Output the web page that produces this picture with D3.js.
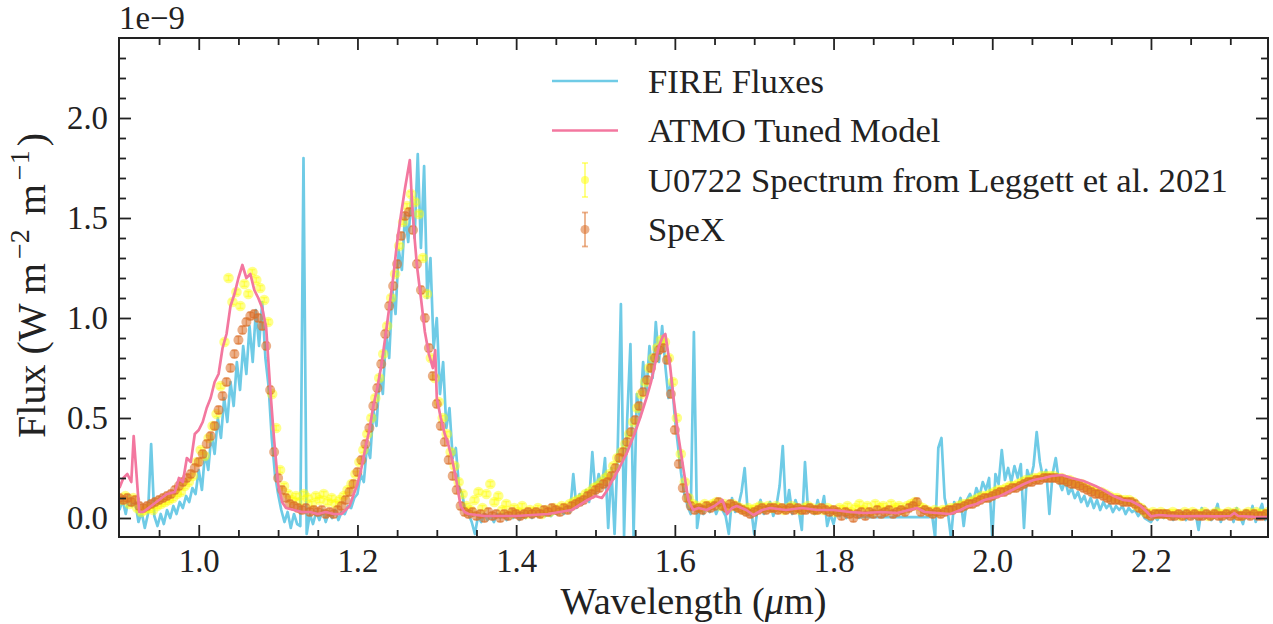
<!DOCTYPE html>
<html><head><meta charset="utf-8">
<script src="https://cdn.jsdelivr.net/npm/d3@7"></script>
<style>
body{margin:0;background:#fff}
svg{display:block}
text{fill:#222}
</style>
</head><body>
<svg id="c" width="1273" height="624"></svg>
<script>
// ---------------- data (flux in units of 1e-9 W m^-2 m^-1) ----------------
const fireStart = 0.900, fireStep = 0.004;
const fireFlux = [
0.04,0.09,0.02,0.11,0.06,0.08,-0.02,0.03,-0.05,0.02,
0.37,0.01,-0.04,0.02,-0.03,0.04,0.00,0.06,0.02,0.08,
0.05,0.11,0.08,0.15,0.12,0.24,0.14,0.33,0.24,0.42,
0.32,0.50,0.40,0.60,0.48,0.68,0.56,0.78,0.64,0.86,
0.72,0.96,0.78,1.04,0.86,1.08,0.80,0.66,0.40,0.22,
0.12,0.04,-0.02,0.03,-0.05,0.02,-0.03,-0.04,1.80,-0.08,
0.02,-0.03,0.03,-0.01,0.04,-0.02,0.03,0.00,0.04,-0.01,
0.03,0.02,0.06,0.05,0.10,0.12,0.22,0.18,0.36,0.30,
0.54,0.46,0.72,0.62,0.92,0.80,1.14,1.02,1.34,1.24,
1.52,1.38,1.62,1.40,1.82,1.35,1.76,1.10,1.30,0.85,
1.00,0.62,0.78,0.45,0.55,0.30,0.35,0.15,0.12,0.03,
0.02,-0.02,-0.08,0.01,-0.02,0.02,-0.01,0.01,-0.02,0.02,
0.00,0.02,-0.01,0.01,0.00,0.02,-0.01,0.01,0.00,0.02,
0.00,0.02,0.01,0.03,0.01,0.02,0.01,0.03,0.02,0.04,
0.02,0.06,0.03,0.22,0.05,0.12,0.07,0.14,0.08,0.33,
0.12,0.22,0.15,0.30,-0.05,0.25,-0.08,0.34,1.07,-0.09,
0.50,0.87,-0.09,0.62,0.50,0.78,0.62,0.86,0.70,0.98,
0.78,0.96,0.76,0.60,0.70,0.50,0.36,0.22,0.12,0.06,
0.02,0.93,-0.05,0.06,0.02,0.07,0.03,0.08,0.02,0.06,
0.04,0.01,-0.08,0.10,0.03,0.06,0.13,0.25,0.02,0.05,
-0.08,0.04,0.09,0.02,0.05,0.08,0.01,0.06,0.16,0.36,
0.03,0.14,0.02,0.09,0.04,-0.06,0.28,0.03,0.06,0.02,
0.09,0.03,0.11,-0.04,0.02,-0.03,0.04,0.01,0.03,0.00,
0.03,0.01,0.02,0.00,0.005,0.005,0.004,0.004,0.004,0.004,
0.004,0.004,0.004,0.004,0.004,0.004,0.004,0.004,0.004,0.004,
0.004,0.004,0.004,0.004,0.004,0.004,0.02,-0.10,0.35,0.40,
0.10,0.03,-0.10,0.08,0.05,0.10,-0.04,0.09,0.12,0.08,
0.15,0.11,0.18,0.14,0.20,-0.10,0.22,0.17,0.34,0.19,
0.25,0.18,0.26,0.20,0.27,-0.05,0.24,0.19,0.26,0.43,
0.28,0.20,0.24,0.02,0.22,0.30,0.18,0.14,0.19,0.12,
0.15,0.10,0.13,0.08,0.11,0.06,0.10,0.05,0.09,0.04,
0.08,0.05,0.07,0.03,0.06,0.04,0.06,0.02,0.05,0.03,
0.04,0.01,0.03,0.00,-0.01,-0.02,0.01,-0.01,0.02,0.00,
0.03,0.01,-0.01,0.02,0.00,0.03,-0.01,0.02,0.00,0.03,
-0.06,0.05,0.00,0.03,-0.01,0.02,0.07,-0.02,0.03,0.00,
0.04,-0.02,0.05,0.01,-0.03,0.04,0.00,0.06,-0.02,0.03,
0.07,-0.01,0.02];

const atmoWave = [
0.900,0.905,0.910,0.915,0.918,0.921,0.925,0.930,0.940,0.950,
0.960,0.970,0.975,0.980,0.985,0.990,0.995,1.000,1.005,1.010,
1.015,1.020,1.025,1.030,1.035,1.040,1.045,1.050,1.055,1.060,
1.065,1.070,1.075,1.080,1.085,1.090,1.095,1.100,1.105,1.110,
1.120,1.130,1.140,1.150,1.160,1.170,1.180,1.190,1.200,1.205,
1.210,1.215,1.220,1.225,1.230,1.235,1.240,1.245,1.250,1.255,
1.260,1.263,1.266,1.269,1.272,1.275,1.280,1.285,1.290,1.295,
1.298,1.300,1.305,1.310,1.315,1.320,1.325,1.330,1.335,1.340,
1.360,1.400,1.440,1.470,1.490,1.500,1.508,1.515,1.520,1.530,
1.540,1.550,1.557,1.565,1.570,1.575,1.580,1.585,1.588,1.594,
1.598,1.604,1.611,1.617,1.623,1.630,1.640,1.650,1.660,1.666,
1.672,1.678,1.690,1.699,1.710,1.720,1.740,1.760,1.780,1.800,
1.820,1.840,1.860,1.880,1.895,1.905,1.915,1.930,1.947,1.960,
1.968,1.980,1.990,2.000,2.010,2.020,2.030,2.040,2.052,2.065,
2.075,2.088,2.100,2.115,2.130,2.140,2.153,2.165,2.175,2.187,
2.195,2.200,2.210,2.220,2.240,2.260,2.280,2.300,2.305,2.310,
2.330,2.348];
const atmoFlux = [
0.15,0.20,0.22,0.18,0.41,0.25,0.03,0.03,0.06,0.09,
0.12,0.13,0.20,0.18,0.30,0.28,0.42,0.44,0.48,0.55,
0.60,0.68,0.72,0.85,0.92,1.06,1.12,1.20,1.265,1.20,
1.22,1.14,1.10,1.05,0.95,0.65,0.39,0.17,0.08,0.05,
0.04,0.03,0.03,0.02,0.03,0.02,0.02,0.06,0.17,0.25,
0.35,0.44,0.56,0.65,0.76,0.90,1.05,1.20,1.38,1.52,
1.65,1.72,1.79,1.56,1.40,1.26,1.10,0.93,0.82,0.75,
0.84,0.60,0.50,0.42,0.36,0.28,0.18,0.06,0.03,0.02,
0.01,0.01,0.02,0.04,0.09,0.11,0.10,0.14,0.18,0.25,
0.33,0.43,0.51,0.61,0.68,0.77,0.86,0.91,0.92,0.76,
0.61,0.42,0.24,0.09,0.04,0.05,0.04,0.06,0.09,0.02,
0.05,0.06,0.04,0.015,0.04,0.05,0.04,0.05,0.04,0.04,
0.03,0.025,0.03,0.025,0.04,0.05,0.03,0.025,0.02,0.04,
0.057,0.07,0.09,0.10,0.11,0.13,0.15,0.17,0.19,0.20,
0.21,0.215,0.20,0.185,0.16,0.14,0.11,0.09,0.085,0.06,
0.03,0.008,0.015,0.012,0.008,0.01,0.008,0.01,0.025,0.01,
0.006,0.004];

const leggettStart = 0.9025, leggettStep = 0.005, leggettErr = 0.012;
const leggettFlux = [
0.09,0.11,0.07,0.10,0.05,0.03,0.04,0.05,0.04,0.06,
0.07,0.08,0.09,0.10,0.12,0.13,0.16,0.18,0.21,0.28,
0.34,0.31,0.40,0.46,0.52,0.66,0.88,1.20,1.08,1.13,
1.06,1.17,1.12,1.23,1.19,1.15,1.09,0.98,0.62,0.45,
0.24,0.16,0.12,0.09,0.11,0.08,0.12,0.10,0.07,0.11,
0.09,0.12,0.08,0.10,0.07,0.09,0.11,0.14,0.17,0.22,
0.28,0.34,0.42,0.50,0.60,0.70,0.82,0.96,1.10,1.22,
1.36,1.48,1.56,1.62,1.58,1.52,1.30,1.12,0.80,0.70,
0.58,0.50,0.42,0.33,0.26,0.18,0.12,0.06,0.04,0.09,
0.13,0.05,0.12,0.17,0.08,0.11,0.04,0.07,0.02,0.05,
0.03,0.06,0.02,0.04,0.03,0.05,0.02,0.04,0.03,0.05,
0.04,0.06,0.05,0.07,0.08,0.09,0.10,0.12,0.13,0.15,
0.16,0.18,0.20,0.22,0.26,0.30,0.33,0.37,0.42,0.48,
0.55,0.62,0.68,0.75,0.80,0.85,0.89,0.88,0.80,0.68,
0.50,0.32,0.18,0.10,0.07,0.06,0.05,0.07,0.06,0.07,
0.08,0.06,0.07,0.05,0.07,0.06,0.05,0.04,0.05,0.04,
0.05,0.06,0.05,0.06,0.05,0.06,0.05,0.04,0.05,0.06,
0.05,0.04,0.05,0.06,0.05,0.04,0.05,0.04,0.05,0.04,
0.03,0.05,0.04,0.06,0.03,0.05,0.07,0.04,0.06,0.03,
0.07,0.05,0.06,0.04,0.07,0.05,0.06,0.04,0.06,0.07,
0.08,0.06,0.05,0.04,0.03,0.04,0.03,0.04,0.04,0.05,
0.05,0.06,0.07,0.07,0.08,0.09,0.10,0.11,0.11,0.12,
0.13,0.14,0.14,0.15,0.16,0.16,0.17,0.18,0.19,0.19,
0.20,0.20,0.21,0.21,0.21,0.21,0.20,0.20,0.19,0.19,
0.18,0.17,0.17,0.16,0.15,0.14,0.13,0.13,0.12,0.11,
0.10,0.10,0.09,0.09,0.09,0.08,0.06,0.05,0.03,0.02,
0.03,0.02,0.03,0.02,0.02,0.03,0.02,0.01,0.03,0.02,
0.03,0.02,0.02,0.03,0.01,0.02,0.03,0.02,0.02,0.03,
0.02,0.03,0.01,0.02,0.03,0.02,0.03,0.02,0.02,0.03];

const spexStart = 0.900, spexStep = 0.005, spexErr = 0.018;
const spexFlux = [
0.10,0.09,0.10,0.08,0.09,0.06,0.05,0.06,0.07,0.08,
0.09,0.10,0.11,0.12,0.14,0.16,0.18,0.20,0.22,0.25,
0.28,0.32,0.37,0.41,0.46,0.54,0.61,0.68,0.75,0.82,
0.89,0.94,0.98,1.01,1.02,1.00,0.96,0.86,0.64,0.33,
0.20,0.14,0.10,0.07,0.06,0.05,0.04,0.05,0.03,0.04,
0.03,0.04,0.02,0.03,0.02,0.04,0.06,0.09,0.13,0.17,
0.23,0.29,0.37,0.45,0.56,0.65,0.77,0.92,1.06,1.16,
1.27,1.41,1.51,1.53,1.44,1.27,1.14,1.00,0.85,0.71,
0.57,0.46,0.38,0.29,0.21,0.14,0.06,0.03,0.02,0.03,
0.01,0.02,0.00,0.03,0.01,0.02,0.00,0.02,0.01,0.03,
0.02,0.01,0.02,0.03,0.02,0.03,0.02,0.04,0.03,0.05,
0.04,0.03,0.05,0.04,0.06,0.07,0.08,0.09,0.11,0.12,
0.14,0.15,0.17,0.18,0.21,0.25,0.30,0.33,0.38,0.43,
0.49,0.56,0.63,0.69,0.75,0.80,0.84,0.85,0.79,0.62,
0.44,0.27,0.15,0.10,0.06,0.04,0.05,0.04,0.06,0.05,
0.06,0.08,0.06,0.05,0.07,0.06,0.05,0.04,0.03,0.02,
0.03,0.04,0.05,0.04,0.05,0.05,0.04,0.05,0.04,0.05,
0.04,0.05,0.04,0.04,0.05,0.04,0.04,0.05,0.04,0.03,
0.04,0.03,0.01,0.03,0.02,0.00,0.02,0.03,0.01,0.03,
0.02,0.04,0.02,0.03,0.04,0.02,0.03,0.04,0.03,0.05,
0.06,0.08,0.03,0.04,0.03,0.02,0.03,0.02,0.03,0.04,
0.04,0.05,0.05,0.06,0.07,0.07,0.08,0.09,0.10,0.10,
0.11,0.12,0.13,0.13,0.14,0.15,0.15,0.16,0.17,0.18,
0.18,0.19,0.19,0.20,0.20,0.20,0.20,0.19,0.19,0.18,
0.17,0.17,0.16,0.15,0.14,0.13,0.12,0.12,0.11,0.10,
0.09,0.09,0.09,0.08,0.08,0.08,0.07,0.05,0.04,0.02,
0.01,0.02,0.02,0.02,0.02,0.01,0.01,0.02,0.01,0.02,
0.01,0.02,0.01,0.01,0.02,0.01,0.02,0.01,0.01,0.02,
0.01,0.02,0.01,0.01,0.02,0.01,0.02,0.01,0.01,0.02];

const xMajor = [1.0,1.2,1.4,1.6,1.8,2.0,2.2];
const xMajorLabels = ["1.0","1.2","1.4","1.6","1.8","2.0","2.2"];
const xMinor = [0.95,1.05,1.1,1.15,1.25,1.3,1.35,1.45,1.5,1.55,1.65,1.7,1.75,1.85,1.9,1.95,2.05,2.1,2.15,2.25,2.3];
const yMajor = [0.0,0.5,1.0,1.5,2.0];
const yMajorLabels = ["0.0","0.5","1.0","1.5","2.0"];
const yMinor = [0.1,0.2,0.3,0.4,0.6,0.7,0.8,0.9,1.1,1.2,1.3,1.4,1.6,1.7,1.8,1.9,2.1,2.2,2.3];
const legendLabels = ["FIRE Fluxes","ATMO Tuned Model","U0722 Spectrum from Leggett et al. 2021","SpeX"];

// ---------------- font selection (first installed serif) ----------------
function pickFont(list) {
  const c = document.createElement("canvas").getContext("2d");
  const s = "Wavelength FIRE Fluxes 0123456789 mmmiiiWW";
  for (const f of list) {
    for (const base of ["monospace", "sans-serif"]) {
      c.font = `40px ${base}`; const w0 = c.measureText(s).width;
      c.font = `40px "${f}", ${base}`; const w1 = c.measureText(s).width;
      if (Math.abs(w0 - w1) > 0.5) return f;
    }
  }
  return null;
}
const fam = pickFont(["Liberation Serif","Tinos","Times New Roman","Times","Nimbus Roman","Nimbus Roman No9 L","FreeSerif","DejaVu Serif","Noto Serif"]);
const FONT = fam ? `"${fam}", serif` : "serif";

// ---------------- layout ----------------
const L = 119, R = 1268, T = 38, B = 537;
const C_FIRE = "#6fcbe6", C_ATMO = "#f3779f", C_LEG = "#ffff00", C_SPEX = "#db6e26";
const x = d3.scaleLinear().domain([0.8995, 2.3475]).range([L, R]);
const y = d3.scaleLinear().domain([-0.095, 2.4]).range([B, T]);
const svg = d3.select("#c").attr("font-family", FONT);

function fitSize(sel, size, target) {
  sel.attr("font-size", size);
  const w = sel.node().getComputedTextLength();
  return w > 0 ? size * target / w : size;
}

svg.append("defs").append("clipPath").attr("id", "clip")
  .append("rect").attr("x", L).attr("y", T).attr("width", R - L).attr("height", B - T);
const plot = svg.append("g").attr("clip-path", "url(#clip)");

const fire = fireFlux.map((f, i) => [fireStart + i * fireStep, f]);
const atmo = atmoWave.map((w, i) => [w, atmoFlux[i]]);
const leg = leggettFlux.map((f, i) => [leggettStart + i * leggettStep, f]);
const spex = spexFlux.map((f, i) => [spexStart + i * spexStep, f]);
const line = d3.line().x(d => x(d[0])).y(d => y(d[1]));

plot.append("path").datum(fire).attr("d", line).attr("fill", "none")
  .attr("stroke", C_FIRE).attr("stroke-width", 2.7).attr("stroke-linejoin", "round");

function errSeries(data, err, color, r, alpha) {
  const g = plot.append("g");
  g.selectAll("line.v").data(data).join("line")
    .attr("x1", d => x(d[0])).attr("x2", d => x(d[0]))
    .attr("y1", d => y(d[1] - err)).attr("y2", d => y(d[1] + err))
    .attr("stroke", color).attr("stroke-opacity", alpha).attr("stroke-width", 1.5);
  [-1, 1].forEach(s => {
    g.selectAll(null).data(data).join("line")
      .attr("x1", d => x(d[0]) - 3).attr("x2", d => x(d[0]) + 3)
      .attr("y1", d => y(d[1] + s * err)).attr("y2", d => y(d[1] + s * err))
      .attr("stroke", color).attr("stroke-opacity", alpha).attr("stroke-width", 1.5);
  });
  g.selectAll("circle").data(data).join("circle")
    .attr("cx", d => x(d[0])).attr("cy", d => y(d[1])).attr("r", r)
    .attr("fill", color).attr("fill-opacity", alpha);
}
errSeries(leg, leggettErr, C_LEG, 5.3, 0.45);
errSeries(spex, spexErr, C_SPEX, 5, 0.55);

plot.append("path").datum(atmo).attr("d", line).attr("fill", "none")
  .attr("stroke", C_ATMO).attr("stroke-width", 2.7).attr("stroke-linejoin", "round");

// ---------------- axes ----------------
const probe = svg.append("text").text("2.0");
const tickFS = fitSize(probe, 33, 41);
probe.remove();

function styleAxis(g) {
  g.select(".domain").remove();
  g.selectAll(".tick line").attr("stroke", "#222").attr("stroke-width", 1.8);
  g.attr("font-size", tickFS).attr("font-family", FONT);
  g.selectAll("text").attr("fill", "#222");
}
const xfmt = v => xMajorLabels[xMajor.indexOf(v)];
const yfmt = v => yMajorLabels[yMajor.indexOf(v)];
svg.append("g").attr("transform", `translate(0,${B})`)
  .call(d3.axisBottom(x).tickValues(xMajor).tickFormat(xfmt).tickSize(-12).tickPadding(12))
  .call(styleAxis);
svg.append("g").attr("transform", `translate(0,${B})`)
  .call(d3.axisBottom(x).tickValues(xMinor).tickFormat("").tickSize(-7)).call(styleAxis);
svg.append("g").attr("transform", `translate(0,${T})`)
  .call(d3.axisTop(x).tickValues(xMajor).tickFormat("").tickSize(-12)).call(styleAxis);
svg.append("g").attr("transform", `translate(0,${T})`)
  .call(d3.axisTop(x).tickValues(xMinor).tickFormat("").tickSize(-7)).call(styleAxis);
svg.append("g").attr("transform", `translate(${L},0)`)
  .call(d3.axisLeft(y).tickValues(yMajor).tickFormat(yfmt).tickSize(-12).tickPadding(11))
  .call(styleAxis);
svg.append("g").attr("transform", `translate(${L},0)`)
  .call(d3.axisLeft(y).tickValues(yMinor).tickFormat("").tickSize(-7)).call(styleAxis);
svg.append("g").attr("transform", `translate(${R},0)`)
  .call(d3.axisRight(y).tickValues(yMajor).tickFormat("").tickSize(-12)).call(styleAxis);
svg.append("g").attr("transform", `translate(${R},0)`)
  .call(d3.axisRight(y).tickValues(yMinor).tickFormat("").tickSize(-7)).call(styleAxis);

svg.append("rect").attr("x", L).attr("y", T).attr("width", R - L).attr("height", B - T)
  .attr("fill", "none").attr("stroke", "#222").attr("stroke-width", 2);

// offset text
svg.append("text").attr("x", L).attr("y", 29).attr("font-size", tickFS).text("1e\u22129");

// x label
const xl = svg.append("text").attr("x", (L + R) / 2).attr("y", 614).attr("text-anchor", "middle");
xl.append("tspan").text("Wavelength (");
xl.append("tspan").attr("font-style", "italic").text("\u03bc");
xl.append("tspan").text("m)");
xl.attr("font-size", fitSize(xl, 37, 266));

// y label
function buildYLabel(s) {
  const t = svg.append("text").attr("text-anchor", "middle").attr("font-size", s);
  const sup = Math.round(s * 0.7), up = s * 0.38, gap = s * 0.2;
  t.append("tspan").text("Flux (W m");
  t.append("tspan").attr("dy", -up).attr("dx", gap * 0.5).attr("font-size", sup).text("\u22122");
  t.append("tspan").attr("dy", up).attr("dx", gap * 0.5).text(" m");
  t.append("tspan").attr("dy", -up).attr("dx", gap * 0.5).attr("font-size", sup).text("\u22121");
  t.append("tspan").attr("dy", up).attr("dx", gap * 0.5).text(")");
  return t;
}
let yl = buildYLabel(38);
const ylw = yl.node().getComputedTextLength() + 38 * 0.4;
yl.remove();
const ylS = 38 * 306 / ylw;
yl = buildYLabel(ylS).attr("transform", `translate(${19 + ylS * 0.64},${(T + B) / 2 - 2}) rotate(-90)`);

// ---------------- legend ----------------
const lg = svg.append("g");
const rowY = [81, 130.5, 180, 229.5];
const hx0 = 552, hx1 = 618, tx = 648;
lg.append("line").attr("x1", hx0).attr("x2", hx1).attr("y1", rowY[0]).attr("y2", rowY[0])
  .attr("stroke", C_FIRE).attr("stroke-width", 2.7);
lg.append("line").attr("x1", hx0).attr("x2", hx1).attr("y1", rowY[1]).attr("y2", rowY[1])
  .attr("stroke", C_ATMO).attr("stroke-width", 2.7);
[[2, C_LEG, 0.5, 4], [3, C_SPEX, 0.55, 4.5]].forEach(([k, c, a, r]) => {
  const cx = (hx0 + hx1) / 2, cy = rowY[k];
  lg.append("line").attr("x1", cx).attr("x2", cx).attr("y1", cy - 17).attr("y2", cy + 17)
    .attr("stroke", c).attr("stroke-opacity", a).attr("stroke-width", 1.8);
  [-17, 17].forEach(o => lg.append("line").attr("x1", cx - 3).attr("x2", cx + 3)
    .attr("y1", cy + o).attr("y2", cy + o).attr("stroke", c).attr("stroke-opacity", a).attr("stroke-width", 1.8));
  lg.append("circle").attr("cx", cx).attr("cy", cy).attr("r", r).attr("fill", c).attr("fill-opacity", a);
});
const lprobe = lg.append("text").text(legendLabels[2]);
const legFS = fitSize(lprobe, 34, 580);
lprobe.remove();
legendLabels.forEach((t, i) => {
  lg.append("text").attr("x", tx).attr("y", rowY[i] + legFS * 0.34).attr("font-size", legFS).text(t);
});
</script>
</body></html>
